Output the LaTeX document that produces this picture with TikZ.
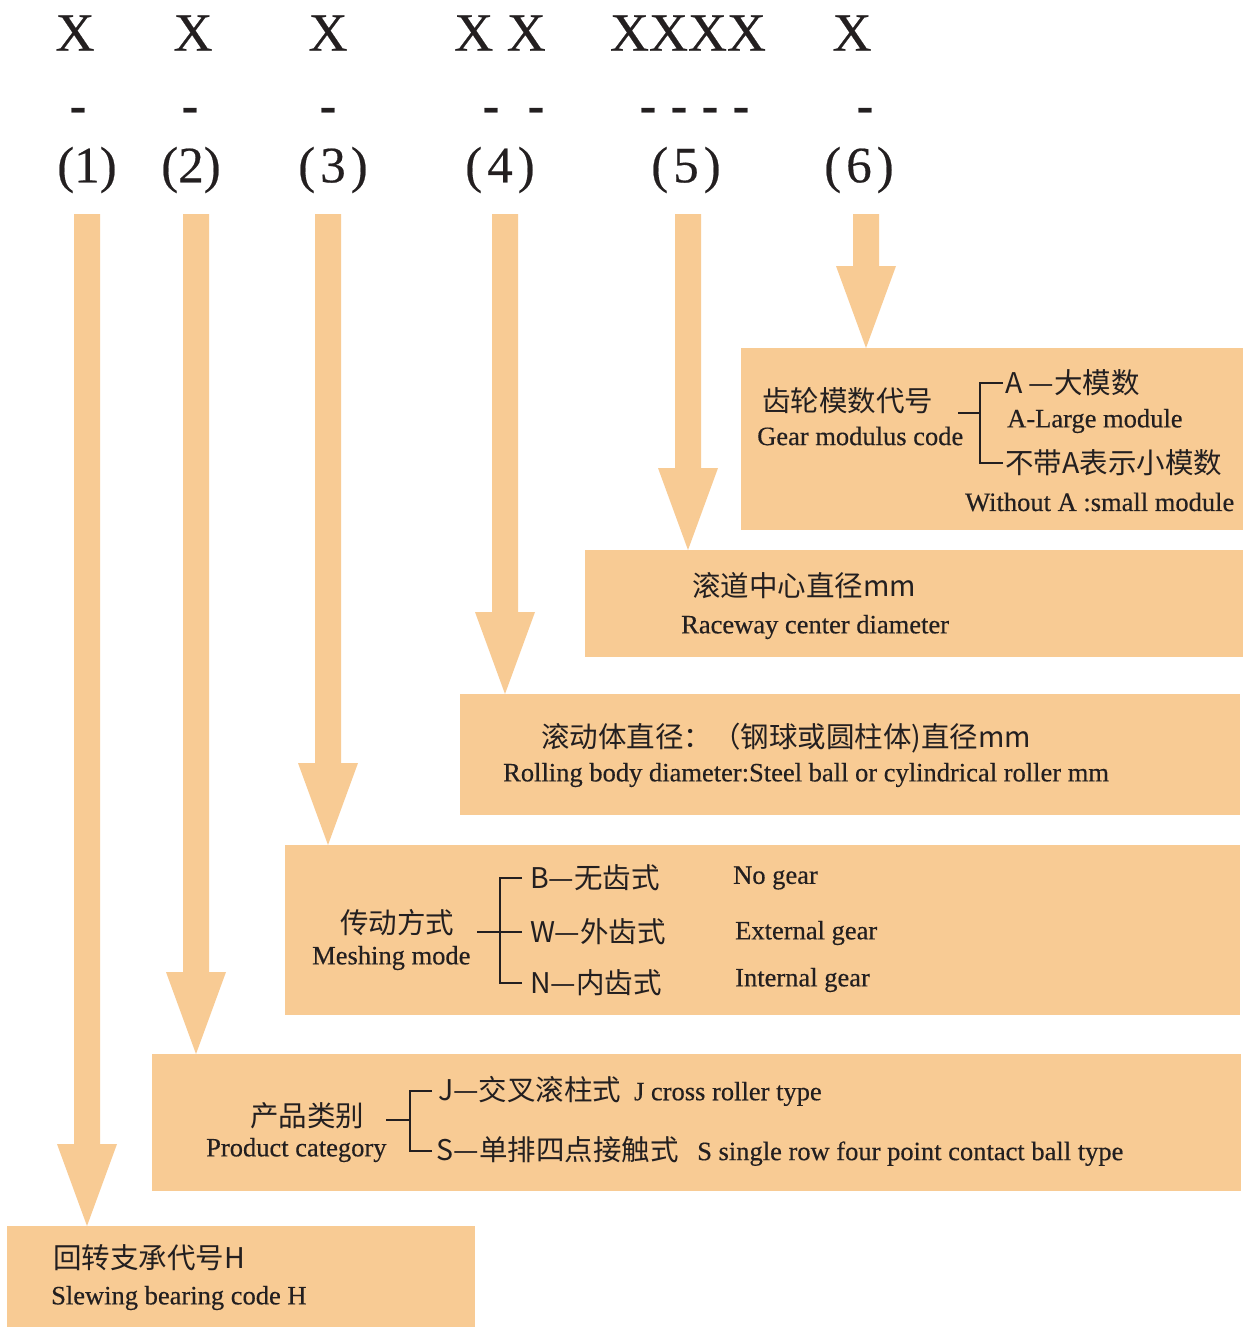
\documentclass[tikz,border=0pt]{standalone}
\usepackage{fontspec}
\setmainfont{Liberation Serif}[FakeBold=0.4]
\newfontfamily\cjk{Noto Sans CJK SC}
\usetikzlibrary{calc}
\definecolor{peach}{RGB}{248,203,148}
\definecolor{ink}{RGB}{35,31,32}
\newcommand\zhtext[1]{{\cjk\fontsize{28.5}{32}\selectfont #1}}
\tikzset{
  panel/.style  = {fill=peach, inner sep=0pt, outer sep=0pt, anchor=north west},
  pointer/.style= {fill=peach},
  cn/.style     = {font=\cjk\fontsize{28.5}{32}\selectfont, text=ink,
                   inner sep=0pt, anchor=west},
  en/.style     = {font=\fontsize{26.5}{30}\selectfont, text=ink,
                   inner sep=0pt, anchor=west},
  code/.style   = {font=\fontsize{54}{60}\selectfont, text=ink, inner sep=0pt},
  dashmark/.style = {font=\bfseries\fontsize{50}{56}\selectfont, text=ink, inner sep=0pt},
  part/.style   = {font=\fontsize{51}{56}\selectfont, text=ink, inner sep=0pt},
  tree/.style   = {draw=ink, line width=1.3pt}
}

\begin{document}
\begin{tikzpicture}[x=1pt,y=-1pt]
\useasboundingbox (0,0) rectangle (1243,1327);
\fill[white] (0,0) rectangle (1243,1327);
% Code pattern
\node[code] (x1) at (75,33) {X};
\node[code] (x2) at (193,33) {X};
\node[code] (x3) at (328,33) {X};
\node[code] (x4) at (500,33) {X X};
\node[code] (x5) at (688,33) {XXXX};
\node[code] (x6) at (852,33) {X};
\foreach \x in {78,190,328,491,536,648,679,710,741,865}
  \node[dashmark] (d\x) at (\x,115) {-};
\foreach \k/\x/\t in {1/87/{(1)}, 2/191/{(2)}, 3/333/{(\hspace{5pt}3\hspace{5pt})},
                      4/500/{(\hspace{5pt}4\hspace{5pt})}, 5/686/{(\hspace{5pt}5\hspace{5pt})},
                      6/859/{(\hspace{5pt}6\hspace{5pt})}}
  \node[part] (lbl\k) at (\x,170) {\t};
% Panels
\node[panel, minimum width=502pt, minimum height=182pt] (box6) at (741,348) {};
\node[panel, minimum width=658pt, minimum height=107pt] (box5) at (585,550) {};
\node[panel, minimum width=780pt, minimum height=121pt] (box4) at (460,694) {};
\node[panel, minimum width=955pt, minimum height=170pt] (box3) at (285,845) {};
\node[panel, minimum width=1089pt, minimum height=137pt] (box2) at (152,1054) {};
\node[panel, minimum width=468pt, minimum height=101pt] (box1) at (7,1226) {};
% Arrows
\foreach \k/\x in {1/87,2/196,3/328,4/505,5/688,6/866}{
  \coordinate (top\k) at (\x,214);
  \coordinate (tip\k) at (top\k |- box\k.north);
  \fill[pointer] ($(top\k)+(-13,0)$) -- ($(tip\k)+(-13,-82)$) -- ($(tip\k)+(-30,-82)$)
    -- (tip\k) -- ($(tip\k)+(30,-82)$) -- ($(tip\k)+(13,-82)$) -- ($(top\k)+(13,0)$) -- cycle;
}
% (6) gear modulus
\node[cn] (g6cn) at (762,401) {齿轮模数代号};
\node[en] (g6en) at (757,436) {Gear modulus code};
\node[cn, inner xsep=2pt] (o6a) at (1003,383) {A —大模数};
\node[en] (o6aen) at (1007,421) {A-Large module};
\node[cn, inner xsep=2pt] (o6b) at (1003,463) {不带A表示小模数};
\node[en] (o6ben) at (965,502) {Without A :small module};
\coordinate (s6) at (958,413);
\coordinate (j6) at (980,413);
\draw[tree] (s6) -- (j6);
\draw[tree] (o6a.west) -| (j6);
\draw[tree] (o6b.west) -| (j6);
% (5) raceway
\node[cn] (r5cn) at (692,586) {滚道中心直径mm};
\node[en] (r5en) at (681,627) {Raceway center diameter};
% (4) rolling body
\node[cn] (r4cn) at (541,738) {滚动体直径：（钢球或圆柱体)直径mm};
\node[en] (r4en) at (503,775) {Rolling body diameter:Steel ball or cylindrical roller mm};
% (3) meshing mode
\node[cn] (m3cn) at (340,923) {传动方式};
\node[en] (m3en) at (312,958) {Meshing mode};
\node[cn, inner xsep=8pt] (oB) at (522,878) {B—无齿式};
\node[cn, inner xsep=8pt] (oW) at (522,932) {W—外齿式};
\node[cn, inner xsep=8pt] (oN) at (522,983) {N—内齿式};
\node[en] (oBen) at (733,878) {No gear};
\node[en] (oWen) at (735,933) {External gear};
\node[en] (oNen) at (735,980) {Internal gear};
\coordinate (s3) at (477,932);
\coordinate (j3) at (500,932);
\draw[tree] (s3) -- (j3);
\foreach \o in {oB,oW,oN}
  \draw[tree] (\o.west) -| (j3);
% (2) product category
\node[cn] (p2cn) at (250,1116) {产品类别};
\node[en] (p2en) at (206,1150) {Product category};
\node[en, inner xsep=6pt] (oJ) at (432,1091) {\zhtext{J—交叉滚柱式}\hspace{6pt} J cross roller type};
\node[en, inner xsep=4pt] (oS) at (432,1151) {\zhtext{S—单排四点接触式}\hspace{12pt} S single row four point contact ball type};
\coordinate (s2) at (386,1120);
\coordinate (j2) at (410,1120);
\draw[tree] (s2) -- (j2);
\draw[tree] (oJ.west) -| (j2);
\draw[tree] (oS.west) -| (j2);
% (1) slewing bearing
\node[cn] (h1cn) at (53,1258) {回转支承代号H};
\node[en] (h1en) at (51,1298) {Slewing bearing code H};
\end{tikzpicture}
\end{document}
